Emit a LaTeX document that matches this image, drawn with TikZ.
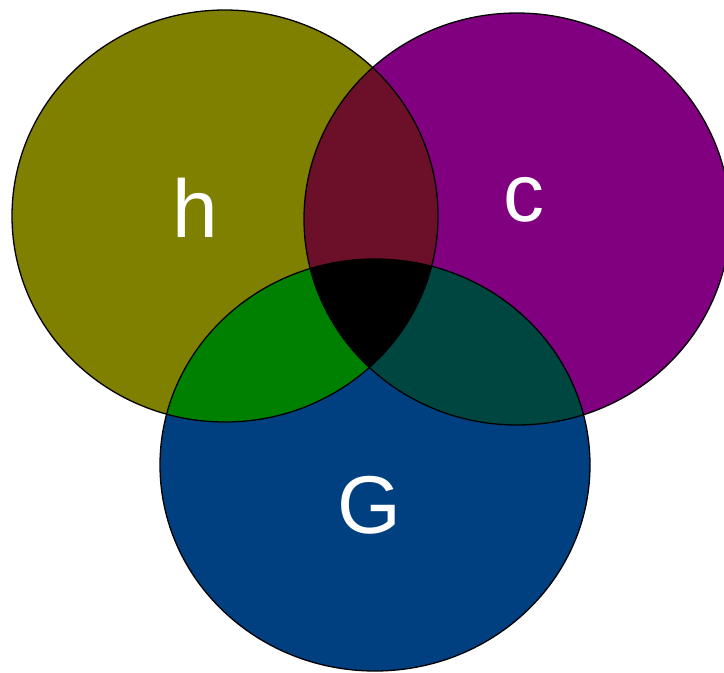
\documentclass[tikz,border=0pt]{standalone}
\usepackage{fontspec}
\setmainfont{Liberation Sans}
\definecolor{olivec}{RGB}{128,128,0}
\definecolor{purplec}{RGB}{128,0,128}
\definecolor{bluec}{RGB}{0,64,128}
\definecolor{redc}{RGB}{107,16,40}
\definecolor{greenc}{RGB}{0,128,0}
\definecolor{tealc}{RGB}{0,70,64}
\begin{document}
\begin{tikzpicture}[x=1pt,y=-1pt,
  rim/.style={draw=black,line width=1.3pt},
  lbl/.style={text=white,font=\fontsize{82}{82}\selectfont,inner sep=0pt,anchor=base}]
\useasboundingbox (0,0) rectangle (724,673);
\def\pathH{(225,216) ellipse [x radius=213pt, y radius=206pt]}
\def\pathC{(517,219) ellipse [x radius=213pt, y radius=206pt]}
\def\pathG{(375,465) ellipse [x radius=215pt, y radius=206pt]}
\fill[olivec] \pathH;
\fill[purplec] \pathC;
\fill[bluec] \pathG;
\begin{scope}\clip \pathH; \fill[redc] \pathC; \end{scope}
\begin{scope}\clip \pathH; \fill[greenc] \pathG; \end{scope}
\begin{scope}\clip \pathC; \fill[tealc] \pathG; \end{scope}
\begin{scope}\clip \pathH; \clip \pathC; \fill[black] \pathG; \end{scope}
\draw[rim] \pathH;
\draw[rim] \pathC;
\draw[rim] \pathG;
\node[lbl] (lh) at (195,237) {h};
\node[lbl] (lc) at (524,221) {c};
\node[lbl] (lg) at (369,533) {G};
\end{tikzpicture}
\end{document}
